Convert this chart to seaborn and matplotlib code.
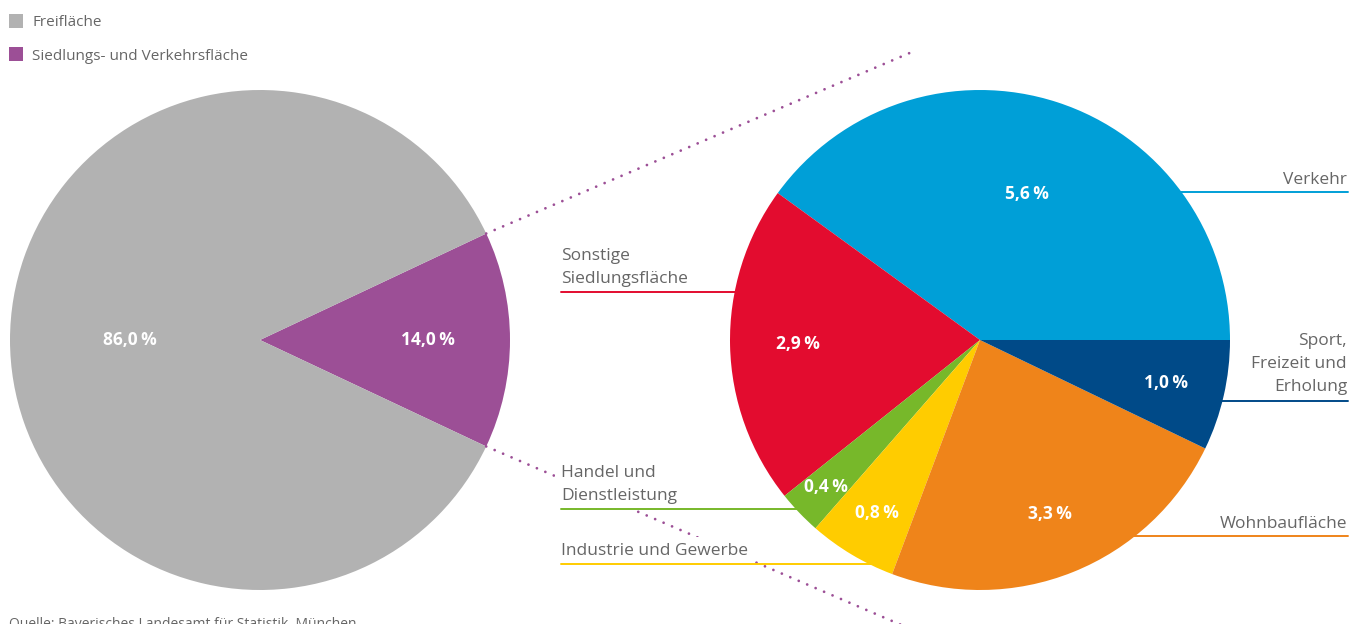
import numpy as np
import matplotlib
matplotlib.use("Agg")
import matplotlib.pyplot as plt
import seaborn as sns

sns.set_theme(style="white")
plt.rcParams['font.family'] = ['Open Sans', 'DejaVu Sans']

# Daten
haupt_labels = ["Siedlungs- und Verkehrsfläche", "Freifläche"]
haupt_werte = [14.0, 86.0]
haupt_farben = ["#9c4f96", "#b2b2b2"]

teil_labels = ["Verkehr", "Sonstige\nSiedlungsfläche", "Handel und\nDienstleistung",
               "Industrie und Gewerbe", "Wohnbaufläche", "Sport,\nFreizeit und\nErholung"]
teil_werte = [5.6, 2.9, 0.4, 0.8, 3.3, 1.0]
teil_farben = ["#009fd7", "#e30c2f", "#77b82a", "#ffcc00", "#ef841a", "#004a88"]

W, H = 1350, 624
GRAU = "#666666"
def Y(y):
    return H - y

fig = plt.figure(figsize=(13.5, 6.24), dpi=100)
ax = fig.add_axes([0, 0, 1, 1])

def fmt(v):
    return ("%.1f" % v).replace(".", ",") + "\u2009%"

# linker Kreis
c1, r1 = (260, 340), 250
start1 = -haupt_werte[0] / sum(haupt_werte) * 180
w1, _ = ax.pie(haupt_werte, colors=haupt_farben, startangle=start1, counterclock=True,
               center=(c1[0], Y(c1[1])), radius=r1, wedgeprops=dict(linewidth=0))
for w, v, rr in zip(w1, haupt_werte, [168, 130]):
    a = np.deg2rad((w.theta1 + w.theta2) / 2)
    ax.text(c1[0] + rr * np.cos(a), Y(c1[1]) + rr * np.sin(a), fmt(v), color="white",
            fontsize=12.5, fontweight="bold", ha="center", va="center")

# rechter Kreis
c2, r2 = (980, 340), 250
w2, _ = ax.pie(teil_werte, colors=teil_farben, startangle=0, counterclock=True,
               center=(c2[0], Y(c2[1])), radius=r2, wedgeprops=dict(linewidth=0))
for w, v, rr in zip(w2, teil_werte, [153, 182, 213, 201, 188, 191]):
    a = np.deg2rad((w.theta1 + w.theta2) / 2)
    ax.text(c2[0] + rr * np.cos(a), Y(c2[1]) + rr * np.sin(a), fmt(v), color="white",
            fontsize=12.5, fontweight="bold", ha="center", va="center")

# gepunktete Verbindungslinien
a0 = np.deg2rad(w1[0].theta2)
a1 = np.deg2rad(w1[0].theta1)
p_oben = (c1[0] + r1 * np.cos(a0), Y(c1[1]) + r1 * np.sin(a0))
p_unten = (c1[0] + r1 * np.cos(a1), Y(c1[1]) + r1 * np.sin(a1))
ax.plot([p_oben[0], 912], [p_oben[1], Y(52)], color="#9c4f96", lw=2,
        dashes=(0.01, 3.3), dash_capstyle="round", zorder=1)
ax.plot([p_unten[0], 920], [p_unten[1], Y(633)], color="#9c4f96", lw=2,
        dashes=(0.01, 3.3), dash_capstyle="round", zorder=1)

# Beschriftungen mit Linien
def kante(y, seite):
    dy = y - c2[1]
    return c2[0] + seite * np.sqrt(r2 ** 2 - dy ** 2)

rechts = {0: (184, 192), 5: (391, 401), 4: (528, 536)}
links = {1: (283, 292), 2: (500, 509), 3: (555, 564)}
for i, (ty, ly) in rechts.items():
    ax.text(1347, Y(ty), teil_labels[i], color=GRAU, fontsize=12.5, ha="right",
            va="baseline", linespacing=1.6, zorder=3)
    ax.plot([kante(ly, 1) - 3, 1348], [Y(ly), Y(ly)], color=teil_farben[i], lw=1.4, zorder=3)
for i, (ty, ly) in links.items():
    ax.text(561, Y(ty), teil_labels[i], color=GRAU, fontsize=12.5, ha="left",
            va="baseline", linespacing=1.6, zorder=3,
            bbox=dict(facecolor="white", edgecolor="none", pad=4))
    ax.plot([561, kante(ly, -1) + 3], [Y(ly), Y(ly)], color=teil_farben[i], lw=1.4, zorder=3)

# Legende
for lab, col, y in [(haupt_labels[1], haupt_farben[1], 21),
                    (haupt_labels[0], haupt_farben[0], 54)]:
    ax.add_patch(plt.Rectangle((9, Y(y) - 7), 14, 14, color=col, lw=0))
    ax.text(32, Y(y + 2), lab, color=GRAU, fontsize=11, ha="left", va="center")

ax.text(9, Y(617), "Quelle: Bayerisches Landesamt für Statistik, München", color=GRAU,
        fontsize=10, ha="left", va="top")

ax.set_xlim(0, W)
ax.set_ylim(0, H)
ax.set_aspect("equal")
ax.axis("off")
fig.savefig("out.png", dpi=100, facecolor="white")
